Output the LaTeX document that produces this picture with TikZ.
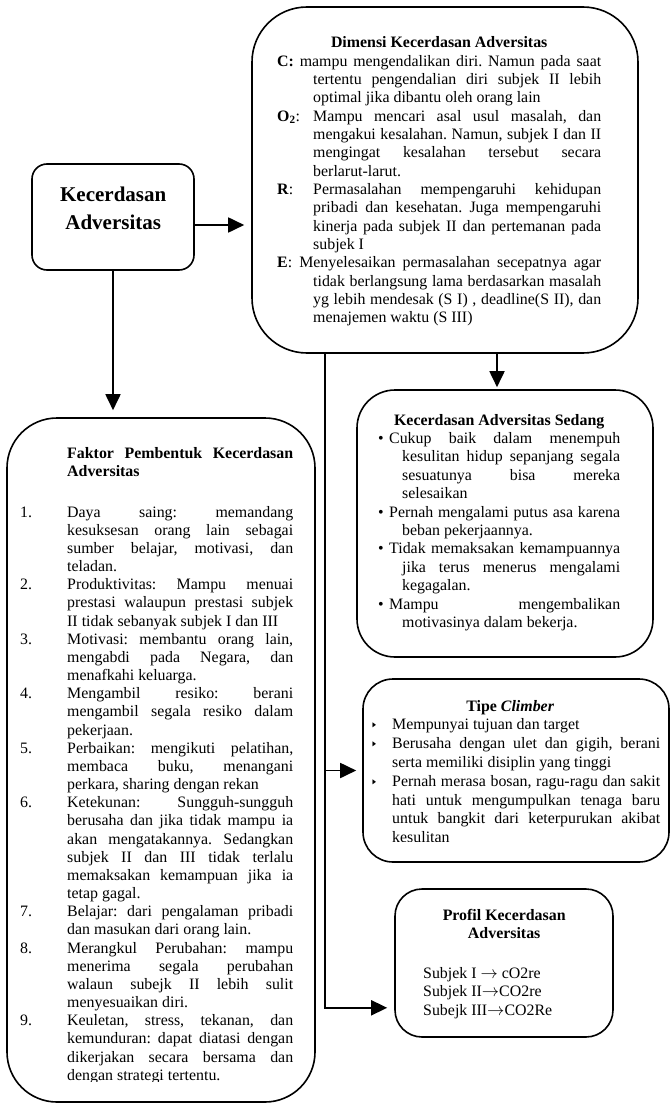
\documentclass[tikz,border=0pt]{standalone}
\usepackage{amssymb}
\usepackage{fontspec}
\setmainfont{Liberation Serif}
\usetikzlibrary{arrows.meta}
\newcommand\tribullet{\raisebox{2pt}{\scalebox{0.35}[0.55]{$\blacktriangleright$}}}
\frenchspacing
\begin{document}
\begin{tikzpicture}[x=1pt,y=-1pt,
  box/.style={draw, line width=1.6pt, inner sep=0pt},
  arr/.style={line width=1.8pt, -{Triangle[length=16pt,width=15pt]}},
  txt/.style={anchor=base west, inner sep=0pt},
  body/.style={font=\fontsize{15.9}{#1}\selectfont\frenchspacing}
]
\useasboundingbox (0,0) rectangle (671,1105);

% boxes
\node[box, rounded corners=15pt, minimum width=162pt, minimum height=106pt] (kec) at (113,217) {};
\node[box, rounded corners=55pt, minimum width=386pt, minimum height=346pt] (dim) at (445,180) {};
\node[box, rounded corners=50pt, minimum width=308pt, minimum height=684pt] (fak) at (161,760) {};
\node[box, rounded corners=38pt, minimum width=296pt, minimum height=267pt] (sed) at (505,523.5) {};
\node[box, rounded corners=30pt, minimum width=306pt, minimum height=183pt] (tipe) at (516,770.5) {};
\node[box, rounded corners=27pt, minimum width=218pt, minimum height=148pt] (prof) at (504,963) {};

% texts
\node[txt] (kectext) at (32,201) {\parbox[t]{162pt}{\centering\fontsize{21}{28}\selectfont\bfseries Kecerdasan\\Adversitas\par}};

\node[txt, body=18.33pt] (dimtext) at (277,48) {\parbox[t]{324pt}{%
{\centering\bfseries Dimensi Kecerdasan Adversitas\par}
\hangindent=36pt\hangafter=1 \textbf{C:} mampu mengendalikan diri. Namun pada saat\linebreak tertentu pengendalian diri subjek II lebih\linebreak optimal jika dibantu oleh orang lain\par
\hangindent=36pt\hangafter=1 \makebox[36pt][l]{\textbf{O\textsubscript{2}}:}Mampu mencari asal usul masalah, dan\linebreak mengakui kesalahan. Namun, subjek I dan II\linebreak mengingat kesalahan tersebut secara\linebreak berlarut-larut.\par
\hangindent=36pt\hangafter=1 \makebox[36pt][l]{\textbf{R}:}Permasalahan mempengaruhi kehidupan\linebreak pribadi dan kesehatan. Juga mempengaruhi\linebreak kinerja pada subjek II dan pertemanan pada\linebreak subjek I\par
\hangindent=36pt\hangafter=1 \textbf{E}: Menyelesaikan permasalahan secepatnya agar\linebreak tidak berlangsung lama berdasarkan masalah\linebreak yg lebih mendesak (S I) , deadline(S II), dan\linebreak menajemen waktu (S III)\par}};

\begin{scope}
\clip (0,0) rectangle (671,1081);
\node[txt, body=18.17pt] (faktext) at (20,458) {\parbox[t]{273pt}{%
{\leftskip=47pt\bfseries Faktor Pembentuk Kecerdasan\linebreak Adversitas\par}
\vspace{22.7pt}
\hangindent=47pt\hangafter=1\makebox[47pt][l]{1.}Daya saing: memandang\linebreak kesuksesan orang lain sebagai\linebreak sumber belajar, motivasi, dan\linebreak teladan.\par
\hangindent=47pt\hangafter=1\makebox[47pt][l]{2.}Produktivitas: Mampu menuai\linebreak prestasi walaupun prestasi subjek\linebreak II tidak sebanyak subjek I dan III\par
\hangindent=47pt\hangafter=1\makebox[47pt][l]{3.}Motivasi: membantu orang lain,\linebreak mengabdi pada Negara, dan\linebreak menafkahi keluarga.\par
\hangindent=47pt\hangafter=1\makebox[47pt][l]{4.}Mengambil resiko: berani\linebreak mengambil segala resiko dalam\linebreak pekerjaan.\par
\hangindent=47pt\hangafter=1\makebox[47pt][l]{5.}Perbaikan: mengikuti pelatihan,\linebreak membaca buku, menangani\linebreak perkara, sharing dengan rekan\par
\hangindent=47pt\hangafter=1\makebox[47pt][l]{6.}Ketekunan: Sungguh-sungguh\linebreak berusaha dan jika tidak mampu ia\linebreak akan mengatakannya. Sedangkan\linebreak subjek II dan III tidak terlalu\linebreak memaksakan kemampuan jika ia\linebreak tetap gagal.\par
\hangindent=47pt\hangafter=1\makebox[47pt][l]{7.}Belajar: dari pengalaman pribadi\linebreak dan masukan dari orang lain.\par
\hangindent=47pt\hangafter=1\makebox[47pt][l]{8.}Merangkul Perubahan: mampu\linebreak menerima segala perubahan\linebreak walaun subejk II lebih sulit\linebreak menyesuaikan diri.\par
\hangindent=47pt\hangafter=1\makebox[47pt][l]{9.}Keuletan, stress, tekanan, dan\linebreak kemunduran: dapat diatasi dengan\linebreak dikerjakan secara bersama dan\linebreak dengan strategi tertentu.\par}};
\end{scope}

\node[txt, body=18.4pt] (sedtext) at (378,425) {\parbox[t]{242pt}{%
{\centering\bfseries Kecerdasan Adversitas Sedang\par}
\hangindent=24pt\hangafter=1\makebox[11pt][l]{•}Cukup baik dalam menempuh\linebreak kesulitan hidup sepanjang segala\linebreak sesuatunya bisa mereka\linebreak selesaikan\par
\hangindent=24pt\hangafter=1\makebox[11pt][l]{•}Pernah mengalami putus asa karena\linebreak beban pekerjaannya.\par
\hangindent=24pt\hangafter=1\makebox[11pt][l]{•}Tidak memaksakan kemampuannya\linebreak jika terus menerus mengalami\linebreak kegagalan.\par
\hangindent=24pt\hangafter=1\makebox[11pt][l]{•}Mampu mengembalikan\linebreak motivasinya dalam bekerja.\par}};

\begin{scope}
\clip (0,0) rectangle (671,841);
\node[txt, body=18.8pt] (tipetext) at (372,711) {\parbox[t]{288pt}{%
{\centering\bfseries\hspace*{-12pt}Tipe \textit{Climber}\par}
\hangindent=20pt\hangafter=1\makebox[20pt][l]{\tribullet}Mempunyai tujuan dan target\par
\hangindent=20pt\hangafter=1\makebox[20pt][l]{\tribullet}Berusaha dengan ulet dan gigih, berani\linebreak serta memiliki disiplin yang tinggi\par
\hangindent=20pt\hangafter=1\makebox[20pt][l]{\tribullet}Pernah merasa bosan, ragu-ragu dan sakit\linebreak hati untuk mengumpulkan tenaga baru\linebreak untuk bangkit dari keterpurukan akibat\linebreak kesulitan\par}};
\end{scope}

\node[txt, body=18.4pt] (proftext) at (395,920) {\parbox[t]{218pt}{%
{\centering\bfseries Profil Kecerdasan\\Adversitas\par}
\vspace{21.6pt}
{\leftskip=28pt Subjek I $\rightarrow$ cO2re\\Subjek II$\rightarrow$CO2re\\Subejk III$\rightarrow$CO2Re\par}}};

% connectors
\coordinate (trunk) at (325,0);
\coordinate (pin) at ([yshift=30pt]prof.south west);
\draw[arr, shorten >=7pt] ([yshift=-8pt]kec.east) -- ([yshift=-8pt]kec.east -| dim.west);
\draw[arr, shorten >=7pt] (kec.south) -- (kec.south |- fak.north);
\draw[arr, shorten >=2pt] ([xshift=-8pt]sed.north |- dim.south) -- ([xshift=-8pt]sed.north);
\draw[arr, shorten >=7pt] (trunk |- dim.south) |- (pin);
\draw[arr, shorten >=6pt] (trunk |- tipe.west) -- (tipe.west);
\end{tikzpicture}
\end{document}
